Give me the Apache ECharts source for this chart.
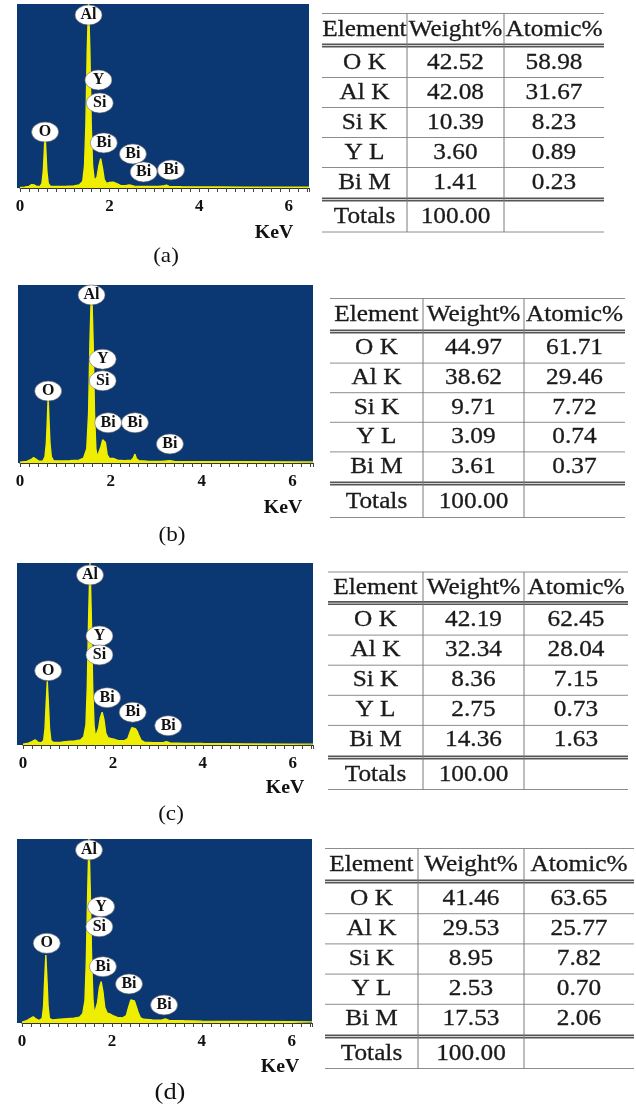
<!DOCTYPE html>
<html><head><meta charset="utf-8">
<script src="https://cdn.jsdelivr.net/npm/echarts@6/dist/echarts.min.js"></script>
<style>html,body{margin:0;padding:0;background:#fff}#c{width:636px;height:1109px}</style>
</head><body><div id="c"></div>
<script>
// ---------------- DATA ----------------
const panelCaptions = ['(a)', '(b)', '(c)', '(d)'];
const xTickLabels = [0, 2, 4, 6];
const xAxisName = 'KeV';
const tableHeader = ['Element', 'Weight%', 'Atomic%'];
const elementRows = ['O K', 'Al K', 'Si K', 'Y L', 'Bi M'];
const totalsLabel = 'Totals';
const totalsValue = '100.00';

const weightA = ['42.52', '42.08', '10.39', '3.60', '1.41'];
const atomicA = ['58.98', '31.67', '8.23', '0.89', '0.23'];
const weightB = ['44.97', '38.62', '9.71', '3.09', '3.61'];
const atomicB = ['61.71', '29.46', '7.72', '0.74', '0.37'];
const weightC = ['42.19', '32.34', '8.36', '2.75', '14.36'];
const atomicC = ['62.45', '28.04', '7.15', '0.73', '1.63'];
const weightD = ['41.46', '29.53', '8.95', '2.53', '17.53'];
const atomicD = ['63.65', '25.77', '7.82', '0.70', '2.06'];

// spectra: [energy keV, relative counts]
const spectrumA = [[0,0.3],[0.1,0.5],[0.2,0.9],[0.26,1.8],[0.29,2.4],[0.32,1.6],[0.38,0.8],[0.45,0.9],[0.49,2.5],[0.52,9],[0.54,19],[0.56,29],[0.58,19],[0.60,9],[0.63,2.5],[0.68,0.9],[0.8,0.8],[1.0,0.9],[1.2,1.1],[1.32,1.6],[1.40,3.5],[1.44,12],[1.47,34],[1.50,74],[1.53,100],[1.56,74],[1.59,34],[1.62,12],[1.66,4],[1.69,3],[1.72,6],[1.76,12],[1.80,16],[1.84,11],[1.88,4.5],[1.93,2.5],[2.0,3],[2.08,3.2],[2.16,2.4],[2.25,1.3],[2.35,1.2],[2.44,1.6],[2.55,1.0],[2.8,0.8],[3.1,0.8],[3.22,1.2],[3.27,1.5],[3.33,0.9],[3.6,0.7],[4.0,0.6],[4.5,0.6],[5.0,0.5],[5.5,0.5],[6.0,0.4],[6.45,0.4]];
const spectrumB = [[0,0.5],[0.15,0.9],[0.25,2],[0.30,3],[0.35,2.2],[0.42,1],[0.50,1],[0.55,3.5],[0.58,11],[0.60,23],[0.62,37],[0.64,23],[0.66,11],[0.69,3.5],[0.74,1.2],[0.9,1.1],[1.1,1.3],[1.3,1.6],[1.40,2.8],[1.47,8],[1.51,28],[1.54,68],[1.575,100],[1.61,68],[1.64,28],[1.67,8],[1.70,3.5],[1.74,4.5],[1.78,9],[1.82,13],[1.85,14],[1.88,11.5],[1.92,4.5],[1.97,2.5],[2.05,2.6],[2.15,1.6],[2.3,1.3],[2.45,1.6],[2.50,3],[2.53,5],[2.56,2.5],[2.62,1.3],[2.8,1],[3.1,0.9],[3.3,1.3],[3.4,0.9],[4,0.8],[5,0.7],[6,0.6],[6.45,0.6]];
const spectrumC = [[0,0.5],[0.12,1],[0.2,1.8],[0.27,2.8],[0.33,1.6],[0.40,1.1],[0.46,2.5],[0.49,9],[0.51,20],[0.54,35],[0.57,20],[0.59,9],[0.62,2.5],[0.68,1.4],[0.85,1.6],[1.0,1.9],[1.15,2.2],[1.28,2.8],[1.35,4.5],[1.40,11],[1.43,32],[1.46,70],[1.49,100],[1.52,70],[1.55,32],[1.58,11],[1.61,4.5],[1.64,4.5],[1.68,9],[1.72,15],[1.76,18],[1.80,14],[1.84,6.5],[1.89,4],[1.95,3.6],[2.02,3.2],[2.12,2.4],[2.25,2.3],[2.33,3.5],[2.38,7],[2.42,9.5],[2.46,10],[2.50,9],[2.54,7.5],[2.58,5],[2.63,2.5],[2.7,1.6],[2.9,1.3],[3.1,1.2],[3.19,1.8],[3.27,1.1],[3.6,0.9],[4,0.8],[5,0.6],[6,0.5],[6.45,0.5]];
const spectrumD = [[0,0.5],[0.1,1.2],[0.18,2.4],[0.25,3.4],[0.31,2.2],[0.38,1.3],[0.45,2.5],[0.48,9],[0.50,21],[0.53,37],[0.56,21],[0.58,9],[0.61,2.5],[0.68,1.6],[0.85,2],[1.0,2.3],[1.15,2.6],[1.28,3.2],[1.35,5],[1.40,12],[1.43,33],[1.46,70],[1.49,100],[1.52,70],[1.55,33],[1.58,12],[1.61,5],[1.64,5.5],[1.68,11],[1.72,19],[1.76,22.5],[1.80,17],[1.84,8.5],[1.89,5.5],[1.95,5],[2.02,4],[2.12,3],[2.24,2.8],[2.32,4],[2.37,8.5],[2.42,12.5],[2.46,13.4],[2.50,12],[2.54,9],[2.58,6],[2.63,3],[2.7,2],[2.9,1.6],[3.1,1.5],[3.19,2.2],[3.27,1.4],[3.6,1.2],[4,1],[5,0.8],[6,0.7],[6.45,0.6]];

// peak labels: [energy keV, counts, element]
const peakLabelsA = [[1.53,94,'Al'],[1.75,58.7,'Y'],[1.78,46.2,'Si'],[0.56,30.4,'O'],[1.87,24.5,'Bi'],[2.52,18.5,'Bi'],[2.76,8.7,'Bi'],[3.37,9.8,'Bi']];
const peakLabelsB = [[1.575,94.4,'Al'],[1.82,58.3,'Y'],[1.82,46.2,'Si'],[0.62,40.4,'O'],[1.94,22.6,'Bi'],[2.53,22.6,'Bi'],[3.30,10.7,'Bi']];
const peakLabelsC = [[1.49,93.4,'Al'],[1.70,59.9,'Y'],[1.70,49.5,'Si'],[0.56,40.8,'O'],[1.87,26,'Bi'],[2.44,18,'Bi'],[3.23,10.6,'Bi']];
const peakLabelsD = [[1.49,94,'Al'],[1.76,63.2,'Y'],[1.72,52.3,'Si'],[0.55,43.3,'O'],[1.80,30.6,'Bi'],[2.38,21.2,'Bi'],[3.16,9.8,'Bi']];

// ---------------- LAYOUT ----------------
const spectra = [spectrumA, spectrumB, spectrumC, spectrumD];
const peakLabels = [peakLabelsA, peakLabelsB, peakLabelsC, peakLabelsD];
const weights = [weightA, weightB, weightC, weightD];
const atomics = [atomicA, atomicB, atomicC, atomicD];

const plotLayout = [
  {left: 20, top: 4, width: 289, height: 184, bgLeft: 17, keV: [274, 233], cap: [166, 256], capSize: 21},
  {left: 20, top: 285, width: 293, height: 178, bgLeft: 18, keV: [283, 508], cap: [172, 535], capSize: 21},
  {left: 23, top: 563, width: 290, height: 182, bgLeft: 17, keV: [285, 788], cap: [171, 814], capSize: 21},
  {left: 22, top: 839, width: 290, height: 184, bgLeft: 17, keV: [280, 1067], cap: [170, 1093], capSize: 24}
];
const tableLayout = [
  {cols: [322, 407, 504, 604], top: 13.5, hdr: 43.5, dbl: 197.5, bottom: 232},
  {cols: [330, 423, 524, 625], top: 298.5, hdr: 329.5, dbl: 481.5, bottom: 517.5},
  {cols: [328, 423, 524, 628], top: 572, hdr: 601, dbl: 755.5, bottom: 789.5},
  {cols: [325, 418, 524, 634], top: 848.5, hdr: 879.5, dbl: 1034.5, bottom: 1068.5}
];

const NAVY = '#0b3772';
const YELLOW = '#f0ee00';
const SERIF = 'Liberation Serif, serif';

const grids = [], xAxes = [], yAxes = [], series = [], graphics = [];

function tickFormatter(v) {
  for (const t of xTickLabels) if (Math.abs(v - t) < 1e-6) return String(t);
  return '';
}

plotLayout.forEach((L, i) => {
  grids.push({left: L.left, top: L.top, width: L.width, height: L.height, show: true,
    backgroundColor: NAVY, borderWidth: 0});
  xAxes.push({gridIndex: i, type: 'value', min: 0, max: 6.45, interval: 0.2,
    axisLine: {show: true, onZero: false, lineStyle: {color: '#333', width: 1}},
    axisTick: {show: true, inside: false, length: 4, lineStyle: {color: '#444', width: 1}},
    axisLabel: {formatter: tickFormatter, fontFamily: SERIF, fontWeight: 'bold', fontSize: 17,
      color: '#111', margin: 10},
    splitLine: {show: false}});
  yAxes.push({gridIndex: i, type: 'value', min: 0, max: 100, show: false, splitLine: {show: false}});
  series.push({type: 'line', xAxisIndex: i, yAxisIndex: i, data: spectra[i], symbol: 'none',
    showSymbol: false, lineStyle: {color: YELLOW, width: 1.4}, areaStyle: {color: YELLOW, opacity: 1},
    z: 2, silent: true});
  series.push({type: 'scatter', xAxisIndex: i, yAxisIndex: i, data: peakLabels[i], symbol: 'circle',
    symbolSize: [27, 20], clip: false, silent: true, z: 5,
    itemStyle: {color: '#fff', borderColor: '#666', borderWidth: 0.6, opacity: 1},
    label: {show: true, position: 'inside', formatter: p => p.data[2], fontFamily: SERIF,
      fontWeight: 'bold', fontSize: 16, color: '#111'}});
  // small left strip of the dark panel background
  graphics.push({type: 'rect', shape: {x: L.bgLeft, y: L.top, width: L.left - L.bgLeft + 0.5, height: L.height},
    style: {fill: NAVY}, silent: true});
  graphics.push({type: 'text', x: L.keV[0], y: L.keV[1], scaleX: 1.1,
    style: {text: xAxisName, x: 0, y: 0, align: 'center', verticalAlign: 'middle',
      font: 'bold 18px ' + SERIF, fill: '#111'}, silent: true});
  graphics.push({type: 'text', x: L.cap[0], y: L.cap[1], scaleX: 1.1,
    style: {text: panelCaptions[i], x: 0, y: 0, align: 'center', verticalAlign: 'middle',
      font: L.capSize + 'px ' + SERIF, fill: '#111'}, silent: true});
});

// ---------------- TABLES ----------------
function hline(x1, x2, y, w, c) {
  graphics.push({type: 'line', shape: {x1: x1, y1: y, x2: x2, y2: y}, style: {stroke: c, lineWidth: w}, silent: true});
}
function vline(x, y1, y2, w, c) {
  graphics.push({type: 'line', shape: {x1: x, y1: y1, x2: x, y2: y2}, style: {stroke: c, lineWidth: w}, silent: true});
}
function cellText(str, cx, cy) {
  graphics.push({type: 'text', x: cx, y: cy, scaleX: 1.1,
    style: {text: str, x: 0, y: 0, align: 'center', verticalAlign: 'middle',
      font: '23px ' + SERIF, fill: '#1a1a1a', stroke: '#1a1a1a', lineWidth: 0.3}, silent: true});
}
tableLayout.forEach((T, i) => {
  const [c0, c1, c2, c3] = T.cols;
  const thin = '#8c8c8c', dark = '#555';
  hline(c0, c3, T.top, 1, thin);
  hline(c0, c3, T.hdr + 0.8, 1.8, dark);
  hline(c0, c3, T.hdr + 3.3, 1.5, dark);
  hline(c0, c3, T.dbl + 0.8, 1.8, dark);
  hline(c0, c3, T.dbl + 3.3, 1.5, dark);
  hline(c0, c3, T.bottom, 1, thin);
  const rowTop = T.hdr + 4, rowH = (T.dbl - rowTop) / elementRows.length;
  for (let r = 1; r < elementRows.length; r++) hline(c0, c3, rowTop + r * rowH, 1, thin);
  vline(c1, T.top, T.bottom, 1, '#7a7a7a');
  vline(c2, T.top, T.bottom, 1, '#7a7a7a');
  const cx = [(c0 + c1) / 2, (c1 + c2) / 2, (c2 + c3) / 2];
  const hy = (T.top + T.hdr) / 2 + 1;
  tableHeader.forEach((h, k) => cellText(h, cx[k], hy));
  elementRows.forEach((el, r) => {
    const y = rowTop + (r + 0.5) * rowH;
    cellText(el, cx[0], y);
    cellText(weights[i][r], cx[1], y);
    cellText(atomics[i][r], cx[2], y);
  });
  const ty = (T.dbl + 4 + T.bottom) / 2;
  cellText(totalsLabel, cx[0], ty);
  cellText(totalsValue, cx[1], ty);
});

const chart = echarts.init(document.getElementById('c'), null, {renderer: 'canvas'});
chart.setOption({
  animation: false,
  backgroundColor: '#fff',
  grid: grids, xAxis: xAxes, yAxis: yAxes, series: series,
  graphic: {elements: graphics}
});
</script></body></html>
